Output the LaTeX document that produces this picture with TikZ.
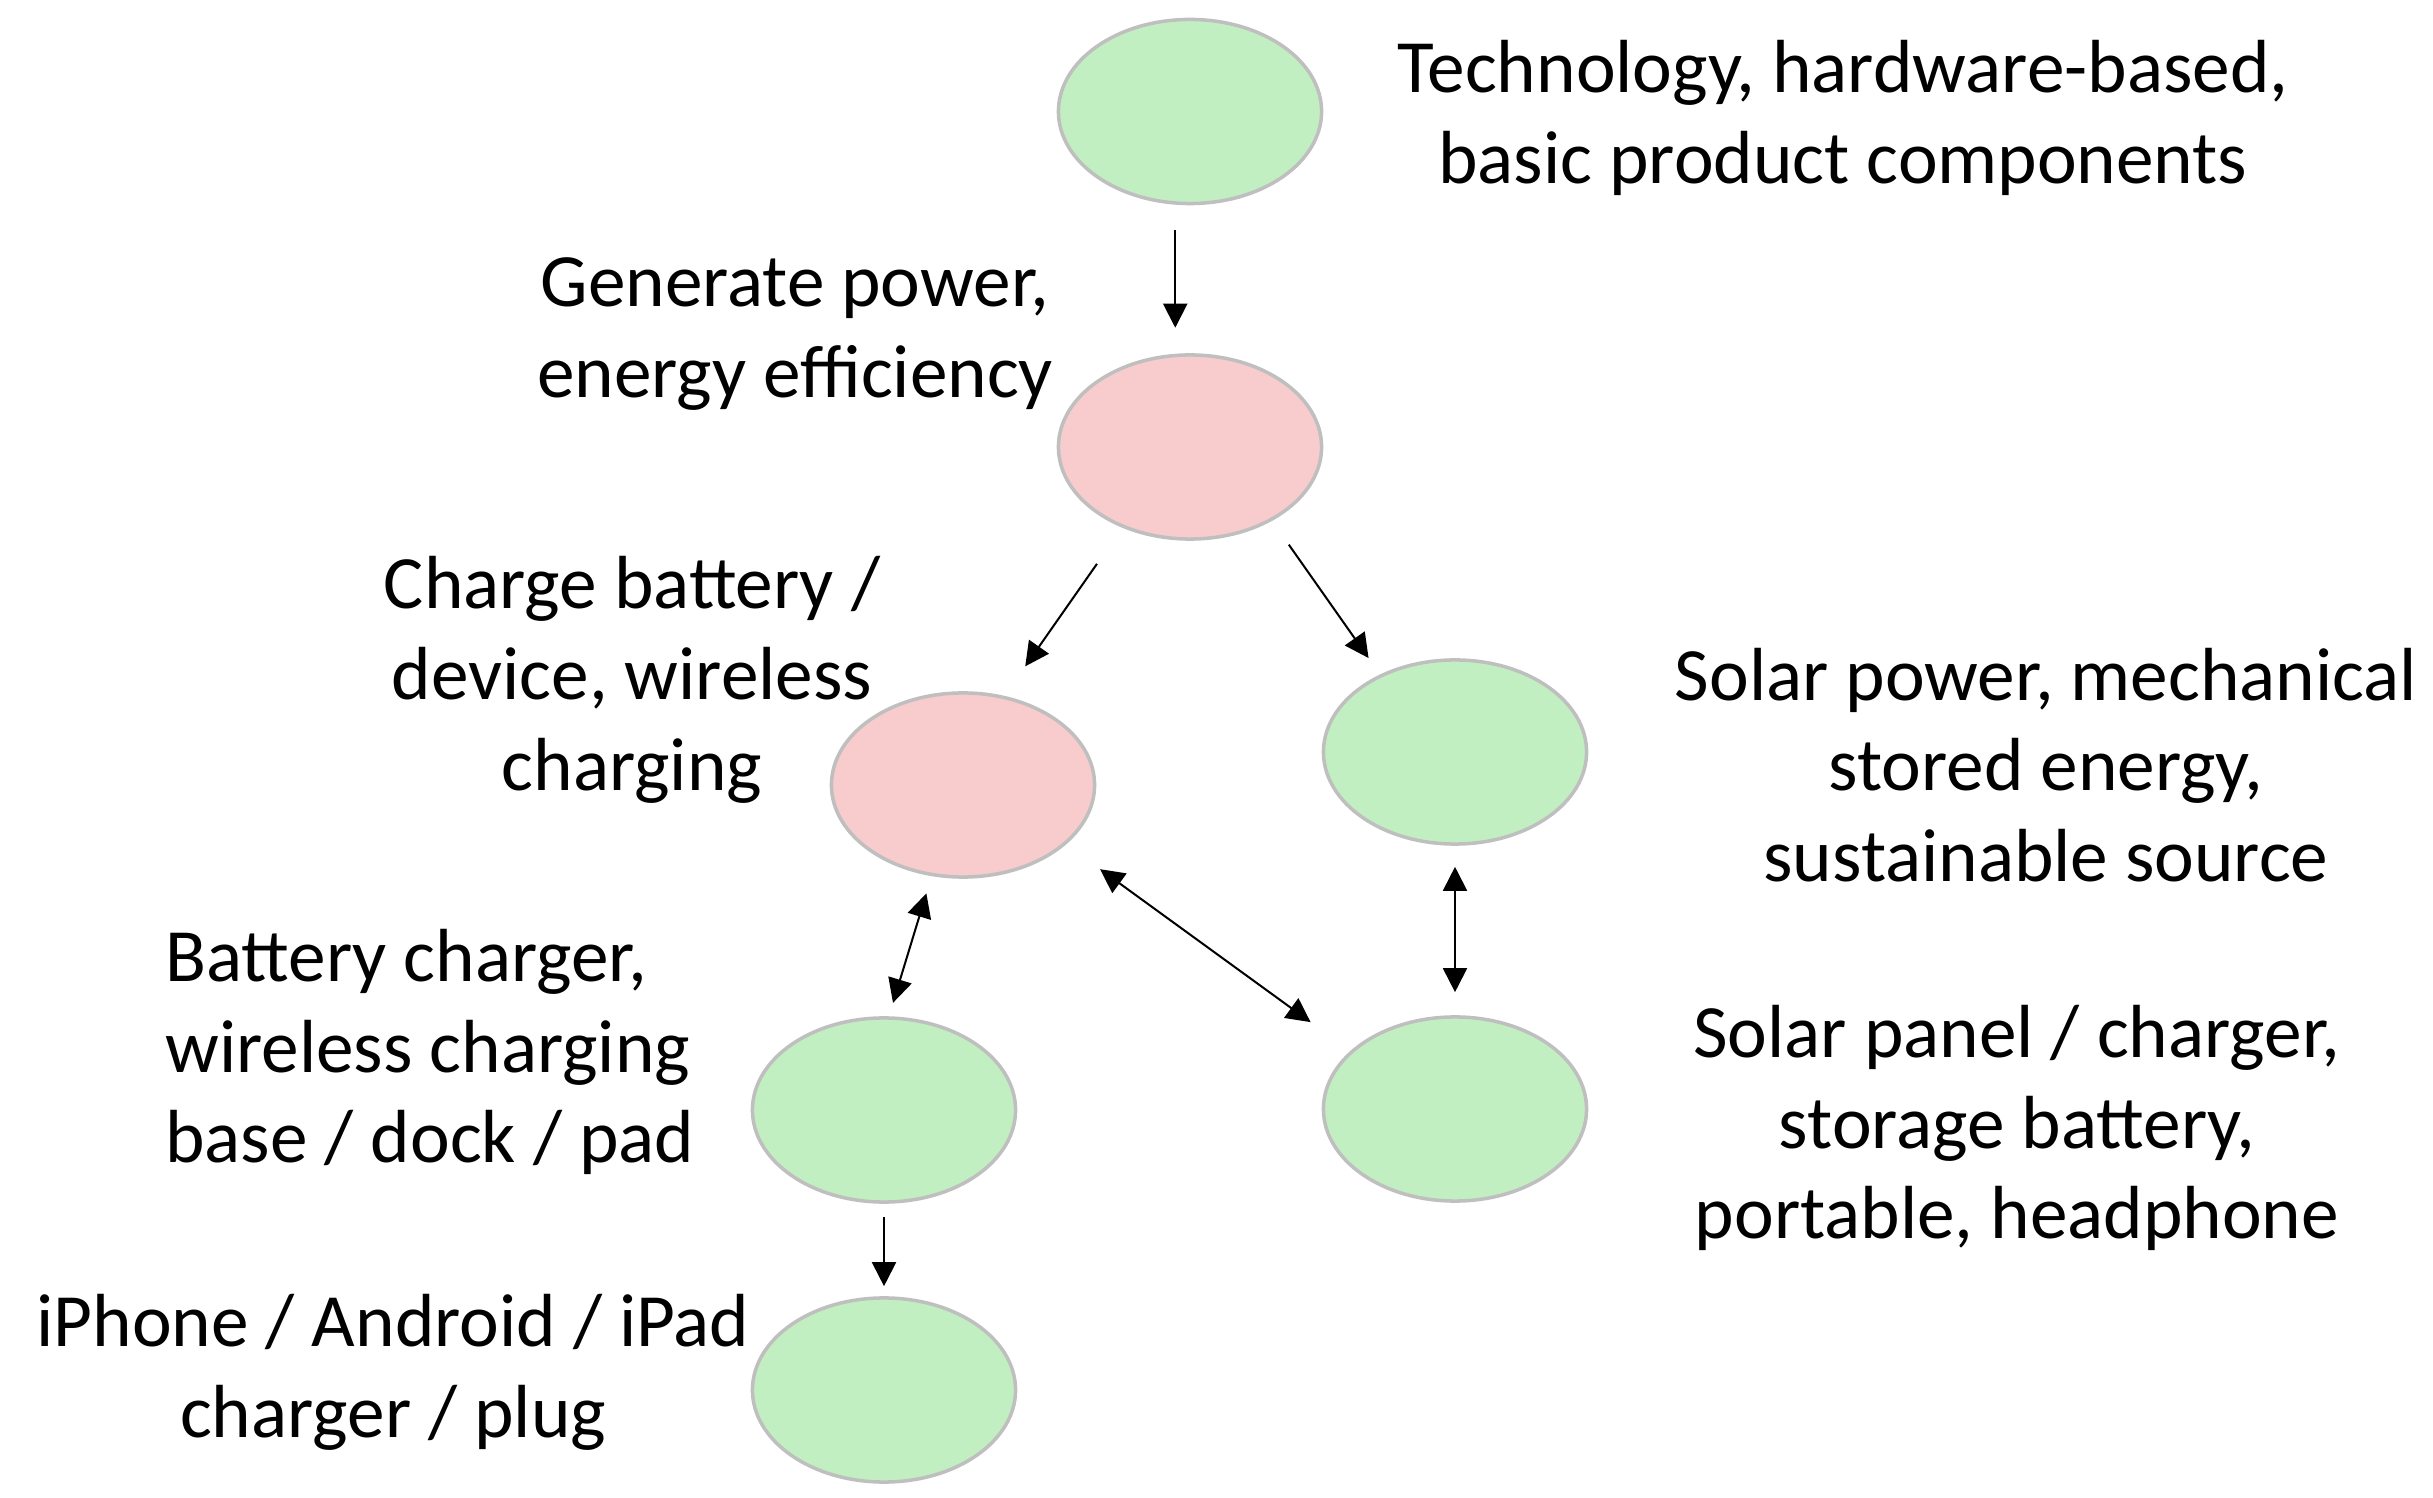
\documentclass[tikz,border=0pt]{standalone}
\usepackage{fontspec}
\setmainfont{Carlito}
\usepackage{xcolor}
\usetikzlibrary{arrows.meta,shapes.geometric}
\definecolor{ovalgreen}{HTML}{C2EFC2}
\definecolor{ovalpink}{HTML}{F8CBCC}
\definecolor{ovalline}{HTML}{BFBFBF}

\begin{document}
\begin{tikzpicture}[x=0.01cm,y=-0.01cm,>={Triangle[length=2.4mm,width=2.4mm]},every node/.append style={align=center},oval/.style={ellipse,draw=ovalline,line width=1pt,inner sep=0pt,minimum width=2.63cm,minimum height=1.84cm},good/.style={oval,fill=ovalgreen},hot/.style={oval,fill=ovalpink},lbl/.style={font=\fontsize{21.4}{25.8}\selectfont},conn/.style={line width=0.57pt}]
    \useasboundingbox (0,0) rectangle (2433,1498);
    \node [good] (E1) at (1190,111.5) {};
    \node [hot]  (E2) at (1190,447)   {};
    \node [hot]  (E3) at (963,785)    {};
    \node [good] (E4) at (1455,752)   {};
    \node [good] (E5) at (884,1110)   {};
    \node [good] (E6) at (1455,1109)  {};
    \node [good] (E7) at (884,1390)   {};
    \node [lbl] (T1) at (1843,118)  {Technology, hardware-based,\\basic product components};
    \node [lbl] (T2) at (795,334)   {Generate power,\\energy efficiency};
    \node [lbl] (T3) at (632,680)   {Charge battery /\\device, wireless\\charging};
    \node [lbl] (T4) at (2046,765)  {Solar power, mechanical\\stored energy,\\sustainable source};
    \node [lbl, anchor=west, align=left] (T5) at (153,1052) {Battery charger,\\wireless charging\\base / dock / pad};
    \node [lbl] (T6) at (2017,1128) {Solar panel / charger,\\storage battery,\\portable, headphone};
    \node [lbl] (T7) at (393,1372)  {iPhone / Android / iPad\\charger / plug};
    \path[->, conn, shorten <=2.5mm, shorten >=2.6mm] (E1.-99) edge (E2.99);
    \path[->, conn, shorten <=4.4mm, shorten >=3.6mm] (E2.-130) edge (E3.65);
    \path[->, conn, shorten <=2.9mm, shorten >=2mm] (E2.-42) edge (E4.134);
    \path[<->, conn, shorten <=1.8mm, shorten >=1.4mm] (E3.-109) edge (E5.87);
    \path[<->, conn, shorten <=4.2mm, shorten >=4.9mm] (E3.-30) edge (E6.151);
    \path[<->, conn, shorten <=2.1mm, shorten >=2.3mm] (E4.south) edge (E6.north);
    \path[->, conn, shorten <=1.3mm, shorten >=1mm] (E5.south) edge (E7.north);
\end{tikzpicture}
\end{document}
